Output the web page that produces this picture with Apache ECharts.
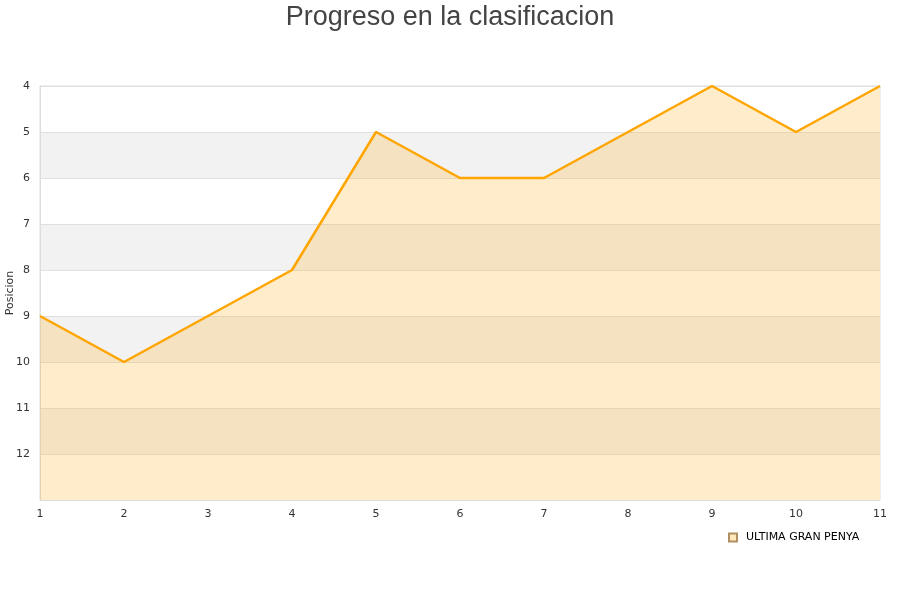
<!DOCTYPE html>
<html><head><meta charset="utf-8">
<script src="https://cdn.jsdelivr.net/npm/echarts@6/dist/echarts.min.js"></script>
<style>html,body{margin:0;padding:0;background:#fff}#c{width:900px;height:600px}</style>
</head><body><div id="c"></div>
<script>
const jornadas = ['1','2','3','4','5','6','7','8','9','10','11'];
const posiciones = [9,10,9,8,5,6,6,5,4,5,4];
const teamName = 'ULTIMA GRAN PENYA';
const chart = echarts.init(document.getElementById('c'));
chart.setOption({
  animation: false,
  backgroundColor: '#fff',
  title: {
    text: 'Progreso en la clasificacion', left: 'center', top: -1,
    textStyle: { fontFamily: 'Liberation Sans, Arial, sans-serif', fontSize: 27, fontWeight: 'normal', color: '#444' }
  },
  grid: { left: 40, right: 20, top: 86, bottom: 100, containLabel: false, outerBoundsMode: 'none', show: true, borderColor: '#ddd', borderWidth: 1, backgroundColor: 'transparent' },
  legend: {
    data: [teamName], left: 723, top: 527, icon: 'rect', itemWidth: 8, itemHeight: 8, itemGap: 10,
    textStyle: { fontFamily: 'DejaVu Sans, sans-serif', fontSize: 11, color: '#000', padding: [0, 0, 0, 4] }
  },
  xAxis: {
    type: 'category', data: jornadas, boundaryGap: false,
    axisLine: { lineStyle: { color: '#ddd' } }, axisTick: { show: false },
    axisLabel: { fontFamily: 'DejaVu Sans, sans-serif', fontSize: 11, color: '#333', margin: 9 },
    splitLine: { show: false }
  },
  yAxis: {
    type: 'value', inverse: true, min: 4, max: 13, interval: 1,
    name: 'Posicion', nameLocation: 'middle', nameGap: 24, nameRotate: 90, nameMoveOverlap: false,
    nameTextStyle: { fontFamily: 'DejaVu Sans, sans-serif', fontSize: 11, color: '#333' },
    axisLine: { show: true, lineStyle: { color: '#ddd' } }, axisTick: { show: false },
    axisLabel: { fontFamily: 'DejaVu Sans, sans-serif', fontSize: 11, color: '#333', margin: 10, showMaxLabel: false },
    splitLine: { show: true, lineStyle: { color: '#e0e0e0' } },
    splitArea: { show: true, areaStyle: { color: ['#ffffff', '#f2f2f2'] } }
  },
  series: [{
    name: teamName, type: 'line', data: posiciones, symbol: 'none',
    lineStyle: { color: '#ffa500', width: 2.5 },
    itemStyle: { color: '#ffe9bd', borderColor: '#b09060', borderWidth: 1 },
    areaStyle: { color: 'rgba(255,170,20,0.22)', origin: 'end', opacity: 1 }
  }]
});
</script></body></html>
